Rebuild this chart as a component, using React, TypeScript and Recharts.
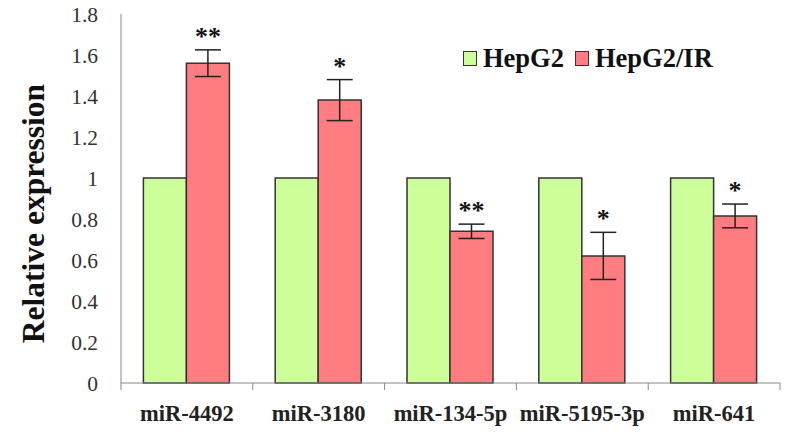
import React from 'react';
import { BarChart, Bar, XAxis, YAxis, ErrorBar, Legend, LabelList } from 'recharts';

const categories = ['miR-4492', 'miR-3180', 'miR-134-5p', 'miR-5195-3p', 'miR-641'];
const hepg2Values = [1, 1, 1, 1, 1];
const hepg2irValues = [1.56, 1.38, 0.74, 0.62, 0.815];
const hepg2irErrors = [0.065, 0.1, 0.035, 0.115, 0.058];
const significance = ['**', '*', '**', '*', '*'];
const yTicks = [0, 0.2, 0.4, 0.6, 0.8, 1, 1.2, 1.4, 1.6, 1.8];

const seriesNames = ['HepG2', 'HepG2/IR'];
const seriesColors = ['#CCFF99', '#FF7C80'];

const data = categories.map((c, i) => ({
  name: c,
  hepg2: hepg2Values[i],
  hepg2ir: hepg2irValues[i],
  err: hepg2irErrors[i],
  sig: significance[i],
}));

const W = 787;
const H = 433;
const MARGIN = { top: 14, right: 7, left: 0, bottom: 0 };
const Y_AXIS_W = 121;
const X_AXIS_H = 50;
const PLOT_W = W - MARGIN.left - MARGIN.right - Y_AXIS_W;
const BAND = PLOT_W / categories.length;
const SERIF = '"Liberation Serif", "Times New Roman", serif';

const XTick = (props: any) => {
  const { x, y, payload, index } = props;
  const left = x - BAND / 2;
  const right = x + BAND / 2;
  return (
    <g>
      <line x1={left} y1={y} x2={left} y2={y + 7} stroke="#888" strokeWidth={1} />
      {index === categories.length - 1 && (
        <line x1={right} y1={y} x2={right} y2={y + 7} stroke="#888" strokeWidth={1} />
      )}
      <text
        x={x}
        y={y + 38}
        textAnchor="middle"
        fontFamily={SERIF}
        fontWeight="bold"
        fontSize={22.5}
        fill="#222"
      >
        {payload.value}
      </text>
    </g>
  );
};

const YLabel = (props: any) => {
  const vb = props.viewBox || {};
  const cy = (vb.y || 0) + (vb.height || 0) / 2 + 15;
  return (
    <text
      x={33}
      y={cy}
      transform={`rotate(-90, 33, ${cy})`}
      textAnchor="middle"
      dominantBaseline="central"
      fontFamily={SERIF}
      fontWeight="bold"
      fontSize={31.5}
      fill="#111"
    >
      Relative expression
    </text>
  );
};

const StarLabel = (props: any) => {
  const { x, y, width, height, index } = props;
  const v = hepg2irValues[index];
  const e = hepg2irErrors[index];
  const errPx = (e / v) * height;
  const top = y - errPx;
  return (
    <text
      x={x + width / 2}
      y={top - 5}
      textAnchor="middle"
      fontFamily={SERIF}
      fontWeight="bold"
      fontSize={26}
      fill="#111"
    >
      {significance[index]}
    </text>
  );
};

const LegendContent = () => (
  <div style={{ display: 'flex', alignItems: 'center', fontFamily: SERIF, fontWeight: 'bold', fontSize: 26.5, color: '#111', whiteSpace: 'nowrap' }}>
    {seriesNames.map((n, i) => (
      <div key={n} style={{ display: 'flex', alignItems: 'center', marginRight: i === 0 ? 11 : 0 }}>
        <span
          style={{
            display: 'inline-block',
            width: 12,
            height: 13,
            background: seriesColors[i],
            border: '1.5px solid #333',
            marginRight: 6,
          }}
        />
        <span>{n}</span>
      </div>
    ))}
  </div>
);

export default function App() {
  return (
    <div style={{ position: 'absolute', left: 0, top: 0, width: W, height: H, background: '#fff' }}>
      <BarChart width={W} height={H} data={data} margin={MARGIN} barCategoryGap="17%" barGap={0}>
        <XAxis
          dataKey="name"
          height={X_AXIS_H}
          stroke="#888"
          tickLine={false}
          tickSize={0}
          tickMargin={0}
          interval={0}
          tick={<XTick />}
        />
        <YAxis
          width={Y_AXIS_W}
          domain={[0, 1.8]}
          ticks={yTicks}
          stroke="#888"
          tickLine={false}
          tickSize={0}
          tickMargin={23}
          tick={{ fontFamily: SERIF, fontSize: 21.5, fill: '#333' }}
          label={<YLabel />}
        />
        <Legend
          layout="horizontal"
          verticalAlign="middle"
          align="center"
          wrapperStyle={{ top: 43, left: 463, width: 'auto', height: 'auto' }}
          content={<LegendContent />}
        />
        <Bar dataKey="hepg2" name={seriesNames[0]} fill={seriesColors[0]} stroke="#333" strokeWidth={1.5} isAnimationActive={false} />
        <Bar dataKey="hepg2ir" name={seriesNames[1]} fill={seriesColors[1]} stroke="#333" strokeWidth={1.5} isAnimationActive={false}>
          <ErrorBar dataKey="err" width={13} stroke="#222" strokeWidth={1.5} isAnimationActive={false} />
          <LabelList dataKey="sig" content={<StarLabel />} />
        </Bar>
      </BarChart>
    </div>
  );
}
